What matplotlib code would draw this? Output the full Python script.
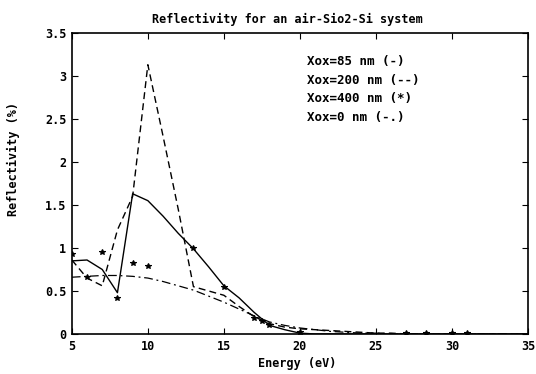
import matplotlib.pyplot as plt
import numpy as np

# photon energy grid (eV)
energy = np.arange(5, 36)

# reflectivity (%)
refl_85 = [0.85, 0.86, 0.75, 0.48, 1.63, 1.55, 1.37, 1.17, 0.99, 0.78,
           0.56, 0.42, 0.25, 0.10, 0.05, 0.01, 0.0, 0.0, 0.0, 0.0,
           0.0, 0.0, 0.0, 0.0, 0.0, 0.0, 0.0, 0.0, 0.0, 0.0, 0.0]
refl_200 = [0.86, 0.65, 0.56, 1.21, 1.60, 3.13, 2.30, 1.45, 0.55, 0.50,
            0.45, 0.32, 0.20, 0.12, 0.08, 0.06, 0.05, 0.04, 0.03, 0.02,
            0.01, 0.01, 0.0, 0.0, 0.0, 0.0, 0.0, 0.0, 0.0, 0.0, 0.0]
refl_0 = [0.66, 0.67, 0.68, 0.68, 0.67, 0.65, 0.61, 0.56, 0.51, 0.44,
          0.37, 0.29, 0.21, 0.14, 0.10, 0.07, 0.05, 0.03, 0.02, 0.01,
          0.01, 0.0, 0.0, 0.0, 0.0, 0.0, 0.0, 0.0, 0.0, 0.0, 0.0]

# the 400 nm case is only drawn as point markers
energy_400 = [5, 6, 7, 8, 9, 10, 13, 15, 17, 17.5, 18, 20, 27, 28.3, 30, 31]
refl_400 = [0.93, 0.66, 0.95, 0.42, 0.82, 0.79, 1.0, 0.55, 0.19, 0.15,
            0.10, 0.02, 0.01, 0.01, 0.01, 0.01]

legend_lines = ["Xox=85 nm (-)", "Xox=200 nm (--)", "Xox=400 nm (*)", "Xox=0 nm (-.)"]

font = {"family": "DejaVu Sans Mono", "weight": "bold", "size": 8.5}

fig = plt.figure(figsize=(5.36, 3.74), dpi=100)
ax = fig.add_axes([0.134, 0.107, 0.851, 0.805])

ax.plot(energy, refl_85, "-", color="black", lw=1.0)
ax.plot(energy, refl_200, "--", color="black", lw=1.0, dashes=(5, 3))
ax.plot(energy, refl_0, "-.", color="black", lw=0.9, dashes=(7, 3, 1.5, 3))
ax.plot(energy_400, refl_400, "*", color="black", ms=4, mew=0.8, ls="none")

ax.set_xlim(5, 35)
ax.set_ylim(0, 3.5)
ax.set_xticks(np.arange(5, 36, 5))
ax.set_yticks(np.arange(0, 3.6, 0.5))
ax.set_xticklabels(["5", "10", "15", "20", "25", "30", "35"], **font)
ax.set_yticklabels(["0", "0.5", "1", "1.5", "2", "2.5", "3", "3.5"], **font)
ax.tick_params(direction="in", top=True, right=True, length=4, width=0.8, pad=4)
for spine in ax.spines.values():
    spine.set_linewidth(1.2)

# title and labels sit a bit off-centre in the original print
fig.text(287 / 536, 1 - 19 / 374, "Reflectivity for an air-Sio2-Si system",
         ha="center", va="center", **font)
fig.text(297 / 536, 1 - 363 / 374, "Energy (eV)", ha="center", va="center", **font)
fig.text(13 / 536, 1 - 159 / 374, "Reflectivity (%)", ha="center", va="center",
         rotation=90, **font)

for i, txt in enumerate(legend_lines):
    ax.text(20.5, 3.17 - i * 0.218, txt, ha="left", va="center",
            **{**font, "size": 9})

fig.savefig("out.png", dpi=100)
